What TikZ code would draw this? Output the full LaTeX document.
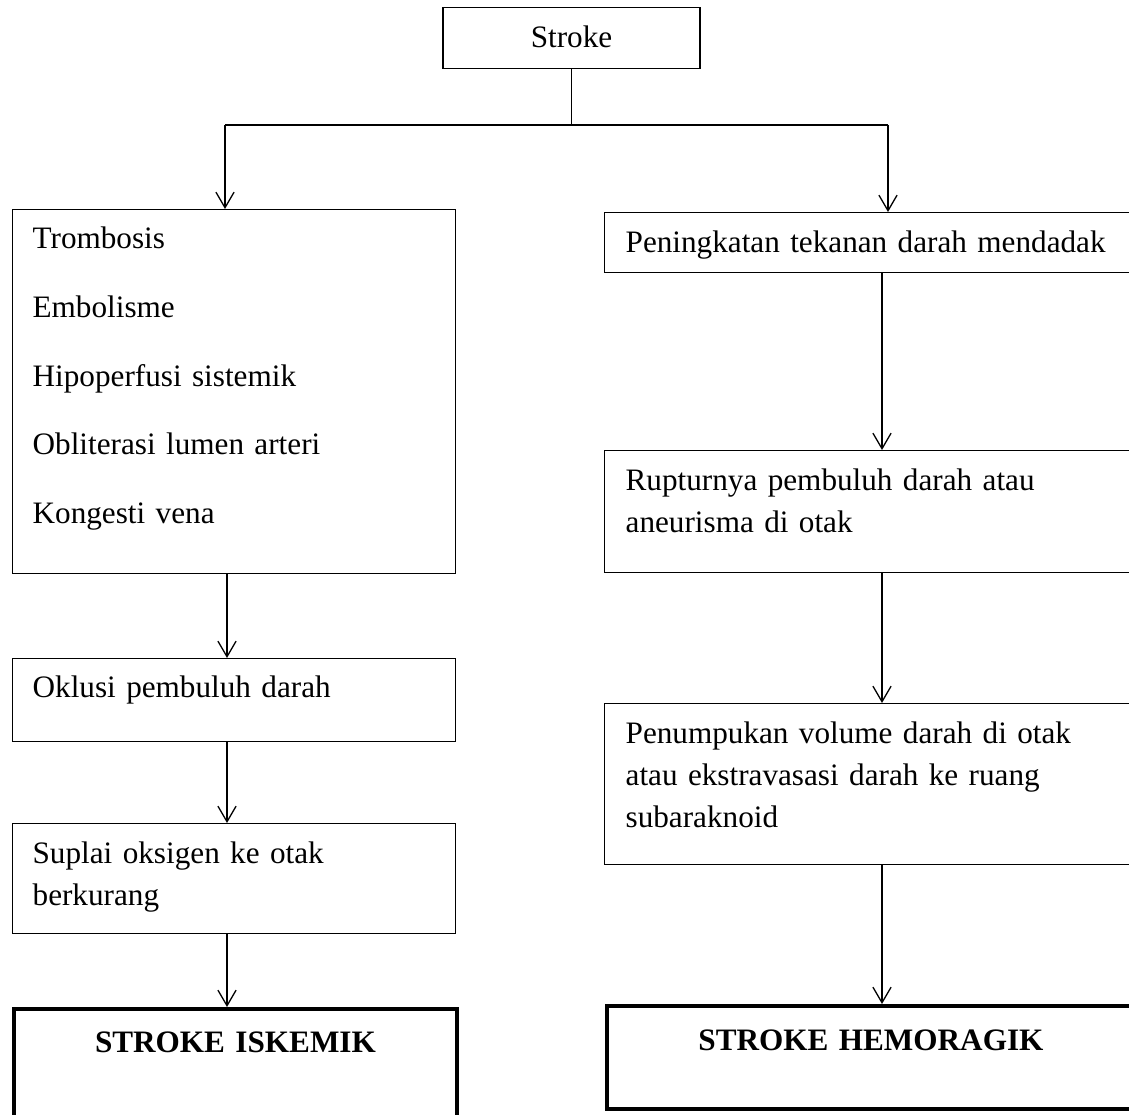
\documentclass[tikz,border=0pt]{standalone}
\usepackage{fontspec}
\setmainfont{Liberation Serif}
\usepackage{tikz}
\usetikzlibrary{arrows.meta}
\newcommand{\pu}{0.3846pt}

\begin{document}
\begin{tikzpicture}[x=\pu,y=-\pu,every node/.style={font=\fontsize{12}{16.15}\selectfont},box/.style={draw,line width=0.5pt,anchor=north west,inner xsep=20*\pu,inner ysep=0pt,align=left},lbox/.style={box,text width=403*\pu},rbox/.style={box,inner xsep=21*\pu,text width=486*\pu},endbox/.style={line width=1.5pt,align=center,font=\fontsize{12}{16}\selectfont\bfseries},line/.style={line width=0.5pt},arr/.style={line,-{Straight Barb[length=6pt,width=7pt]}}]
\useasboundingbox (0,0) rectangle (1129,1115);
\node[box,anchor=north,align=center,minimum width=257*\pu,text height=39.7*\pu,text depth=21.3*\pu] (stroke) at (571.5,7) {Stroke};
\coordinate (split) at (569,125);\coordinate (lsplit) at (225,125);\coordinate (rsplit) at (888,125);
\coordinate (lcol) at (227,0);\coordinate (rcol) at (882,0);
% left branch
\node[lbox,font=\fontsize{12}{26.44}\selectfont,text height=39*\pu,text depth=325*\pu] (causes) at (12,209) {Trombosis\\Embolisme\\Hipoperfusi sistemik\\Obliterasi lumen arteri\\Kongesti vena};
\node[lbox,text height=39*\pu,text depth=44*\pu] (occl) at (12,658) {Oklusi pembuluh darah};
\node[lbox,text height=40*\pu,text depth=70*\pu] (oxy) at (12,823) {Suplai oksigen ke otak\\berkurang};
\node[lbox,endbox,text height=44*\pu,text depth=89*\pu] (iskemik) at (12,1007) {STROKE ISKEMIK};
% right branch
\node[rbox,text height=40*\pu,text depth=20*\pu] (rise) at (604,212) {Peningkatan tekanan darah mendadak};
\node[rbox,text height=40*\pu,text depth=82*\pu] (rupt) at (604,450) {Rupturnya pembuluh darah atau\\aneurisma di otak};
\node[rbox,text height=40*\pu,text depth=121*\pu] (accum) at (604,703) {Penumpukan volume darah di otak\\atau ekstravasasi darah ke ruang\\subaraknoid};
\node[rbox,endbox,text height=45*\pu,text depth=58*\pu] (hemo) at (605,1004) {STROKE HEMORAGIK};
\draw[line] (stroke.south) -- (stroke.south |- split);\draw[line] (lsplit) -- (rsplit);
\draw[arr] (lsplit) -- (lsplit |- causes.north);\draw[arr] (rsplit) -- (rsplit |- rise.north);
\draw[arr] (causes.south -| lcol) -- (occl.north -| lcol);\draw[arr] (occl.south -| lcol) -- (oxy.north -| lcol);\draw[arr] (oxy.south -| lcol) -- (iskemik.north -| lcol);
\draw[arr] (rise.south -| rcol) -- (rupt.north -| rcol);\draw[arr] (rupt.south -| rcol) -- (accum.north -| rcol);\draw[arr] (accum.south -| rcol) -- (hemo.north -| rcol);
\end{tikzpicture}
\end{document}
